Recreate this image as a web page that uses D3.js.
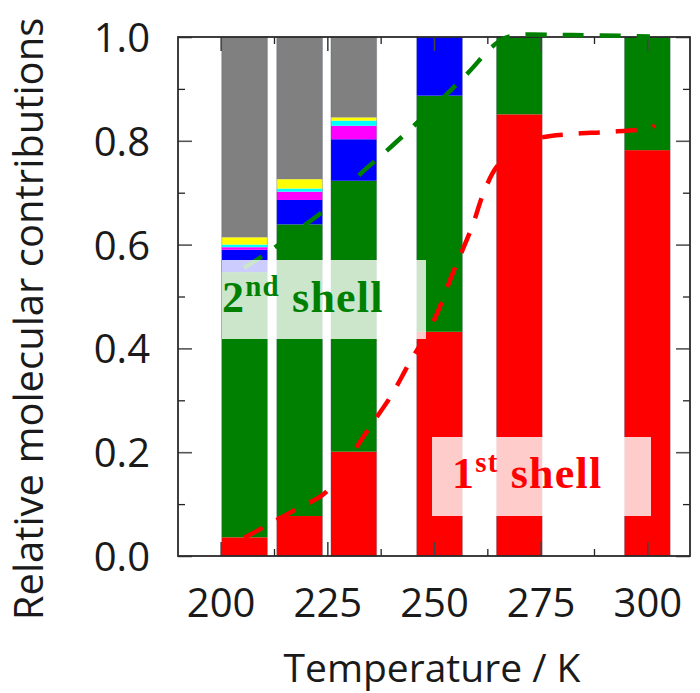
<!DOCTYPE html>
<html>
<head>
<meta charset="utf-8">
<script src="https://cdn.jsdelivr.net/npm/d3@7"></script>
<style>
  html, body { margin: 0; padding: 0; background: #fff; }
  svg { display: block; }
</style>
</head>
<body>
<svg id="chart" width="700" height="693"></svg>
<script>
// Temperatures of the simulated systems (K)
const temperatures = [205.6, 218.5, 231.2, 251.3, 270.0, 300.0];

// Relative molecular contributions, stacked bottom to top
const firstShell   = [0.036, 0.077, 0.201, 0.432, 0.851, 0.782];
const secondShell  = [0.511, 0.562, 0.522, 0.455, 0.149, 0.218];
const blueShare    = [0.043, 0.047, 0.080, 0.113, 0, 0];
const magentaShare = [0.005, 0.016, 0.026, 0, 0, 0];
const cyanShare    = [0.005, 0.006, 0.010, 0, 0, 0];
const yellowShare  = [0.014, 0.018, 0.006, 0, 0, 0];
const grayShare    = [0.386, 0.274, 0.155, 0, 0, 0];

// Smoothed trend of the 1st shell fraction
const firstTrendT = [205.5, 210.2, 218.1, 224.7, 231.7, 235.0, 239.9, 244.1, 249.8, 254.5, 258.9, 261.7, 264.8, 270.2, 275.1, 281.9, 290.5, 299.5, 301.8];
const firstTrendV = [0.035, 0.056, 0.092, 0.123, 0.208, 0.249, 0.308, 0.370, 0.451, 0.547, 0.634, 0.701, 0.751, 0.788, 0.806, 0.813, 0.817, 0.823, 0.829];

// Smoothed trend of the 1st + 2nd shell fraction
const secondTrendT = [205.5, 210.9, 219.8, 226.3, 232.2, 238.8, 245.3, 251.9, 258.0, 263.6, 266.6, 270.2, 279.5, 288.9, 300.6];
const secondTrendV = [0.555, 0.584, 0.638, 0.680, 0.732, 0.780, 0.829, 0.881, 0.931, 0.981, 0.998, 1.004, 1.004, 1.003, 1.001];

// Axis ticks
const xMajorTicks = [200, 225, 250, 275, 300];
const xMinorTicks = [212.5, 237.5, 262.5, 287.5];
const yMajorTicks = [0, 0.2, 0.4, 0.6, 0.8, 1.0];
const yMinorTicks = [0.1, 0.3, 0.5, 0.7, 0.9];

const seriesKeys = ["first", "second", "blue", "magenta", "cyan", "yellow", "gray"];
const seriesColors = {
  first: "#ff0000", second: "#008000", blue: "#0000ff", magenta: "#ff00ff",
  cyan: "#00ffff", yellow: "#ffff00", gray: "#808080"
};

const rows = temperatures.map((t, i) => ({
  t,
  first: firstShell[i], second: secondShell[i], blue: blueShare[i],
  magenta: magentaShare[i], cyan: cyanShare[i], yellow: yellowShare[i], gray: grayShare[i]
}));

const plot = { left: 178, right: 690, top: 37, bottom: 556 };
const barWidthK = 10.7;

const x = d3.scaleLinear().domain([190, 310]).range([plot.left, plot.right]);
const y = d3.scaleLinear().domain([0, 1]).range([plot.bottom, plot.top]);

const svg = d3.select("#chart");

// Stacked bars
const stacked = d3.stack().keys(seriesKeys)(rows);
const barLayer = svg.append("g");
stacked.forEach(layer => {
  barLayer.append("g")
    .attr("fill", seriesColors[layer.key])
    .selectAll("rect")
    .data(layer.filter(d => d[1] - d[0] > 0))
    .join("rect")
    .attr("x", d => x(d.data.t - barWidthK / 2))
    .attr("width", d => x(d.data.t + barWidthK / 2) - x(d.data.t - barWidthK / 2))
    .attr("y", d => y(d[1]))
    .attr("height", d => y(d[0]) - y(d[1]));
});
// faint bar edges
barLayer.append("g").selectAll("rect")
  .data(rows)
  .join("rect")
  .attr("x", d => x(d.t - barWidthK / 2))
  .attr("width", d => x(d.t + barWidthK / 2) - x(d.t - barWidthK / 2))
  .attr("y", y(1))
  .attr("height", y(0) - y(1))
  .attr("fill", "none")
  .attr("stroke", "#4a5a6a")
  .attr("stroke-opacity", 0.35)
  .attr("stroke-width", 1);

// Axes: inward ticks on all four sides
const fontSans = "'Open Sans', 'Noto Sans', sans-serif";
function styleAxis(g, color, width) {
  g.select(".domain").remove();
  g.selectAll(".tick line").attr("stroke", color).attr("stroke-width", width);
}

svg.append("g").attr("transform", `translate(0,${plot.bottom})`)
  .call(d3.axisBottom(x).tickValues(xMajorTicks).tickSizeInner(-14).tickSizeOuter(0).tickPadding(33))
  .call(g => styleAxis(g, "#444", 1.6))
  .call(g => g.selectAll("text").attr("font-family", fontSans).attr("font-size", 40).attr("fill", "#1a1a1a"));
svg.append("g").attr("transform", `translate(0,${plot.bottom})`)
  .call(d3.axisBottom(x).tickValues(xMinorTicks).tickSizeInner(-7).tickSizeOuter(0).tickFormat(""))
  .call(g => styleAxis(g, "#222", 1.3));
svg.append("g").attr("transform", `translate(0,${plot.top})`)
  .call(d3.axisTop(x).tickValues(xMajorTicks).tickSizeInner(-14).tickSizeOuter(0).tickFormat(""))
  .call(g => styleAxis(g, "#444", 1.6));
svg.append("g").attr("transform", `translate(0,${plot.top})`)
  .call(d3.axisTop(x).tickValues(xMinorTicks).tickSizeInner(-7).tickSizeOuter(0).tickFormat(""))
  .call(g => styleAxis(g, "#222", 1.3));

svg.append("g").attr("transform", `translate(${plot.left},0)`)
  .call(d3.axisLeft(y).tickValues(yMajorTicks).tickSizeInner(-14).tickSizeOuter(0).tickPadding(28).tickFormat(d3.format(".1f")))
  .call(g => styleAxis(g, "#555", 1.6))
  .call(g => g.selectAll("text").attr("font-family", fontSans).attr("font-size", 40).attr("fill", "#1a1a1a").attr("dy", "0.36em"));
svg.append("g").attr("transform", `translate(${plot.left},0)`)
  .call(d3.axisLeft(y).tickValues(yMinorTicks).tickSizeInner(-7).tickSizeOuter(0).tickFormat(""))
  .call(g => styleAxis(g, "#222", 1.3));
svg.append("g").attr("transform", `translate(${plot.right},0)`)
  .call(d3.axisRight(y).tickValues(yMajorTicks).tickSizeInner(-14).tickSizeOuter(0).tickFormat(""))
  .call(g => styleAxis(g, "#555", 1.6));
svg.append("g").attr("transform", `translate(${plot.right},0)`)
  .call(d3.axisRight(y).tickValues(yMinorTicks).tickSizeInner(-7).tickSizeOuter(0).tickFormat(""))
  .call(g => styleAxis(g, "#222", 1.3));

// Plot frame
svg.append("rect")
  .attr("x", plot.left).attr("y", plot.top)
  .attr("width", plot.right - plot.left).attr("height", plot.bottom - plot.top)
  .attr("fill", "none").attr("stroke", "#2a2a2a").attr("stroke-width", 1.8);

// Axis titles
svg.append("text")
  .attr("x", 432).attr("y", 682)
  .attr("text-anchor", "middle")
  .attr("font-family", fontSans).attr("font-size", 39).attr("fill", "#1a1a1a")
  .text("Temperature / K");
svg.append("text")
  .attr("transform", "translate(43,319) rotate(-90)")
  .attr("text-anchor", "middle")
  .attr("font-family", fontSans).attr("font-size", 40).attr("fill", "#1a1a1a")
  .text("Relative molecular contributions");

// Dashed trend lines
const trendLine = d3.line()
  .x(d => x(d[0])).y(d => y(d[1]))
  .curve(d3.curveCatmullRom.alpha(0.5));

svg.append("path")
  .datum(secondTrendT.map((t, i) => [t, secondTrendV[i]]))
  .attr("d", trendLine)
  .attr("fill", "none").attr("stroke", "#008000")
  .attr("stroke-width", 4.5).attr("stroke-dasharray", "21,16");

svg.append("path")
  .datum(firstTrendT.map((t, i) => [t, firstTrendV[i]]))
  .attr("d", trendLine)
  .attr("fill", "none").attr("stroke", "#ff0000")
  .attr("stroke-width", 4.5).attr("stroke-dasharray", "21,16");

// Shell labels on translucent white boxes
const fontSerif = "'Liberation Serif', 'Times New Roman', serif";
function shellLabel(box, tx, ty, base, sup, color) {
  svg.append("rect")
    .attr("x", box[0]).attr("y", box[1]).attr("width", box[2]).attr("height", box[3])
    .attr("fill", "#fff").attr("fill-opacity", 0.8);
  const t = svg.append("text")
    .attr("x", tx).attr("y", ty)
    .attr("font-family", fontSerif).attr("font-weight", "bold")
    .attr("font-size", 44).attr("letter-spacing", "1.2px")
    .attr("fill", color);
  t.append("tspan").text(base);
  t.append("tspan").attr("font-size", 29).attr("dy", -16).text(sup);
  t.append("tspan").attr("dy", 16).text(" shell");
}
shellLabel([222, 260, 204, 79], 222, 312, "2", "nd", "#008000");
shellLabel([432, 437, 219, 79], 452, 488, "1", "st", "#ff0000");
</script>
</body>
</html>
